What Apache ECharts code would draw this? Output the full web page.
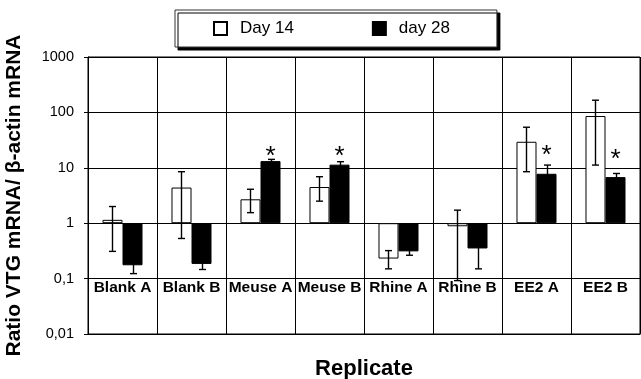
<!DOCTYPE html>
<html>
<head>
<meta charset="utf-8">
<script src="https://cdn.jsdelivr.net/npm/echarts@6/dist/echarts.min.js"></script>
<style>
html,body{margin:0;padding:0;background:#fff;}
#c{width:641px;height:379px;}
</style>
</head>
<body>
<div id="c"></div>
<script>
var categories = ['Blank A','Blank B','Meuse A','Meuse B','Rhine A','Rhine B','EE2 A','EE2 B'];
var day14 = [1.15, 4.4, 2.7, 4.5, 0.23, 0.88, 29.5, 86];
var day14Hi = [2.0, 8.5, 4.1, 6.9, 0.32, 1.72, 54, 166];
var day14Lo = [0.31, 0.53, 1.55, 2.5, 0.15, 0.092, 8.5, 11.2];
var day28 = [0.174, 0.184, 13.2, 11.4, 0.31, 0.35, 7.8, 6.8];
var day28Hi = [0.25, 0.23, 14.2, 12.9, 0.36, 0.8, 11.2, 7.9];
var day28Lo = [0.123, 0.146, 12.2, 10.0, 0.264, 0.15, 5.4, 5.8];
var starAt = [null, null, 21, 21, null, null, 22, 19];
var yTickValues = [0.01, 0.1, 1, 10, 100, 1000];
var yTickLabels = ['0,01', '0,1', '1', '10', '100', '1000'];
var seriesNames = ['Day 14', 'day 28'];

var FONT = 'Liberation Sans, Arial, sans-serif';
var BAR_FRAC = 0.29;

function errData(lo, hi) {
  return categories.map(function (c, i) { return [i, lo[i], hi[i]]; });
}
function errRender(sign) {
  return function (params, api) {
    var i = api.value(0);
    var top = api.coord([i, api.value(2)]);
    var bot = api.coord([i, api.value(1)]);
    var bw = api.size([1, 0])[0] * BAR_FRAC;
    var x = Math.round(top[0] + sign * bw / 2) + 0.5;
    var cw = 3.5;
    var st = { stroke: '#000', lineWidth: 1.4 };
    return {
      type: 'group',
      children: [
        { type: 'line', shape: { x1: x, y1: top[1], x2: x, y2: bot[1] }, style: st },
        { type: 'line', shape: { x1: x - cw, y1: top[1], x2: x + cw, y2: top[1] }, style: st },
        { type: 'line', shape: { x1: x - cw, y1: bot[1], x2: x + cw, y2: bot[1] }, style: st }
      ]
    };
  };
}
var starData = [];
starAt.forEach(function (v, i) { if (v != null) starData.push([i, v]); });

var chart = echarts.init(document.getElementById('c'), null, { renderer: 'canvas' });
chart.setOption({
  animation: false,
  backgroundColor: '#fff',
  textStyle: { fontFamily: FONT },
  legend: {
    data: seriesNames,
    left: 175, top: 10,
    padding: [10, 47, 10, 38],
    itemGap: 78,
    itemWidth: 13, itemHeight: 13,
    icon: 'rect',
    backgroundColor: '#fff',
    borderColor: '#333', borderWidth: 1,
    shadowColor: '#000', shadowBlur: 0.01, shadowOffsetX: 3, shadowOffsetY: 3,
    formatter: function (n) { return '{p|}' + n; },
    textStyle: { fontFamily: FONT, fontSize: 17, color: '#000', rich: { p: { width: 8, fontSize: 17 } } }
  },
  grid: { left: 88, right: 1, top: 57, bottom: 45, show: true, borderColor: '#000', borderWidth: 1, containLabel: false, outerBoundsMode: 'none' },
  xAxis: {
    type: 'category',
    data: categories,
    name: 'Replicate',
    nameLocation: 'middle',
    nameGap: 24,
    nameTextStyle: { fontFamily: FONT, fontSize: 22, fontWeight: 'bold', color: '#000' },
    axisLine: { show: true, lineStyle: { color: '#000', width: 1 } },
    axisTick: { show: false },
    splitLine: { show: true, interval: 0, lineStyle: { color: '#000', width: 1 } },
    axisLabel: { interval: 0, margin: -54, fontFamily: FONT, fontSize: 15.5, fontWeight: 'bold', color: '#000' }
  },
  yAxis: {
    type: 'log',
    logBase: 10,
    min: 0.01, max: 1000,
    name: 'Ratio VTG mRNA/ β-actin mRNA',
    nameLocation: 'middle',
    nameGap: 63,
    nameTextStyle: { fontFamily: FONT, fontSize: 21, fontWeight: 'bold', color: '#000' },
    axisLine: { show: true, lineStyle: { color: '#000', width: 1 } },
    axisTick: { show: true, length: 4, lineStyle: { color: '#000' } },
    splitLine: { show: true, lineStyle: { color: '#000', width: 1 } },
    axisLabel: {
      margin: 14, fontFamily: FONT, fontSize: 14.5, color: '#000',
      formatter: function (v) {
        for (var k = 0; k < yTickValues.length; k++) {
          if (Math.abs(Math.log10(v) - Math.log10(yTickValues[k])) < 1e-6) return yTickLabels[k];
        }
        return '';
      }
    }
  },
  series: [
    {
      name: seriesNames[0], type: 'bar', data: day14,
      barWidth: (BAR_FRAC * 100) + '%', barGap: '0%',
      itemStyle: { color: '#fff', borderColor: '#000', borderWidth: 1 },
      z: 2
    },
    {
      name: seriesNames[1], type: 'bar', data: day28,
      barWidth: (BAR_FRAC * 100) + '%', barGap: '0%',
      itemStyle: { color: '#000', borderColor: '#000', borderWidth: 1 },
      z: 2
    },
    {
      name: 'err14', type: 'custom', data: errData(day14Lo, day14Hi),
      renderItem: errRender(-1), z: 5, silent: true
    },
    {
      name: 'err28', type: 'custom', data: errData(day28Lo, day28Hi),
      renderItem: errRender(1), z: 5, silent: true
    },
    {
      name: 'stars', type: 'custom', data: starData, z: 6, silent: true,
      renderItem: function (params, api) {
        var i = api.value(0);
        var p = api.coord([i, api.value(1)]);
        var bw = api.size([1, 0])[0] * BAR_FRAC;
        return {
          type: 'text',
          style: {
            x: p[0] + bw / 2, y: p[1] + 7,
            text: '*', fill: '#000',
            font: '26px ' + FONT,
            align: 'center', verticalAlign: 'middle'
          }
        };
      }
    }
  ]
});
</script>
</body>
</html>
